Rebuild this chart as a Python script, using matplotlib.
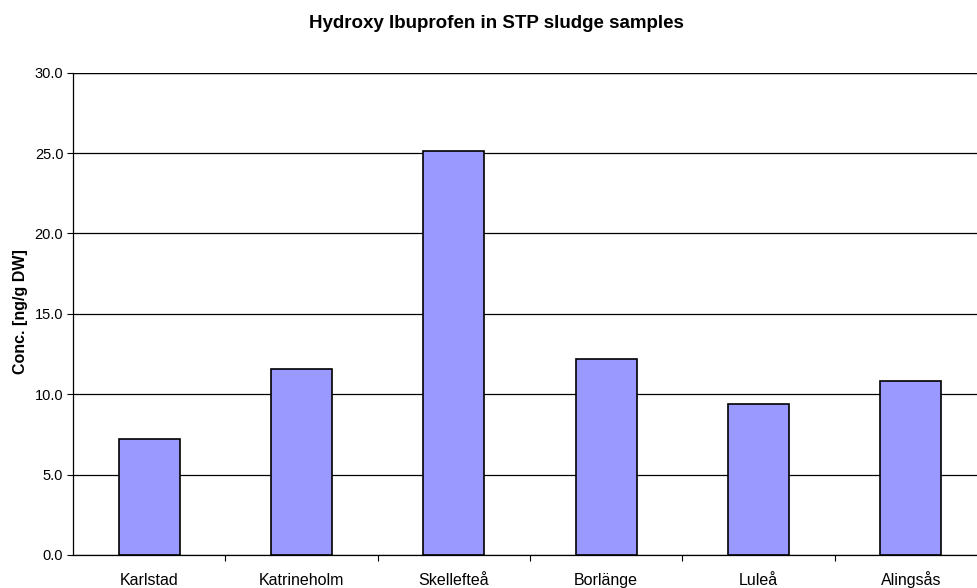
import matplotlib
matplotlib.use("Agg")
import matplotlib.pyplot as plt
import numpy as np

plt.rcParams["font.family"] = ["Liberation Sans", "DejaVu Sans"]

sites = ["Karlstad", "Katrineholm", "Skellefteå", "Borlänge", "Luleå", "Alingsås"]
conc = [7.2, 11.6, 25.1, 12.2, 9.4, 10.8]

W, H = 977, 588
fig = plt.figure(figsize=(W / 100, H / 100), dpi=100)
# plot area runs past the right edge of the picture, as in the original
ax = fig.add_axes([73 / W, 1 - 555 / H, (987 - 73) / W, (555 - 72.7) / H])

x = np.arange(len(sites))
ax.bar(x, conc, width=0.4, color="#9999FF", edgecolor="black", linewidth=1.2, zorder=3)

ax.set_xlim(-0.5, len(sites) - 0.5)
ax.set_ylim(0, 30)
ax.set_yticks(np.arange(0, 31, 5))
ax.set_yticklabels([f"{v:.1f}" for v in np.arange(0, 31, 5)])
ax.yaxis.grid(True, color="black", linewidth=0.9, zorder=0)

ax.set_xticks(x)
ax.set_xticklabels(sites, va="baseline")
ax.set_xticks(np.arange(0.5, len(sites) - 0.5), minor=True)
ax.tick_params(axis="x", which="major", length=0, pad=21.5, labelsize=11.5)
ax.tick_params(axis="x", which="minor", length=4, width=0.8, direction="out")
ax.tick_params(axis="y", length=4, width=0.8, direction="out", labelsize=10.5, pad=3)

for side in ["top", "right"]:
    ax.spines[side].set_visible(False)
ax.spines["left"].set_linewidth(0.9)
ax.spines["bottom"].set_linewidth(0.9)
ax.axhline(30, color="black", linewidth=0.9, zorder=4)

fig.text(20.5 / W, 1 - 312 / H, "Conc. [ng/g DW]", rotation=90,
         ha="center", va="center", fontsize=11.5, fontweight="bold")
fig.text(496.5 / W, 1 - 28 / H, "Hydroxy Ibuprofen in STP sludge samples",
         ha="center", va="baseline", fontsize=13.5, fontweight="bold")

fig.savefig("out.png", dpi=100)
